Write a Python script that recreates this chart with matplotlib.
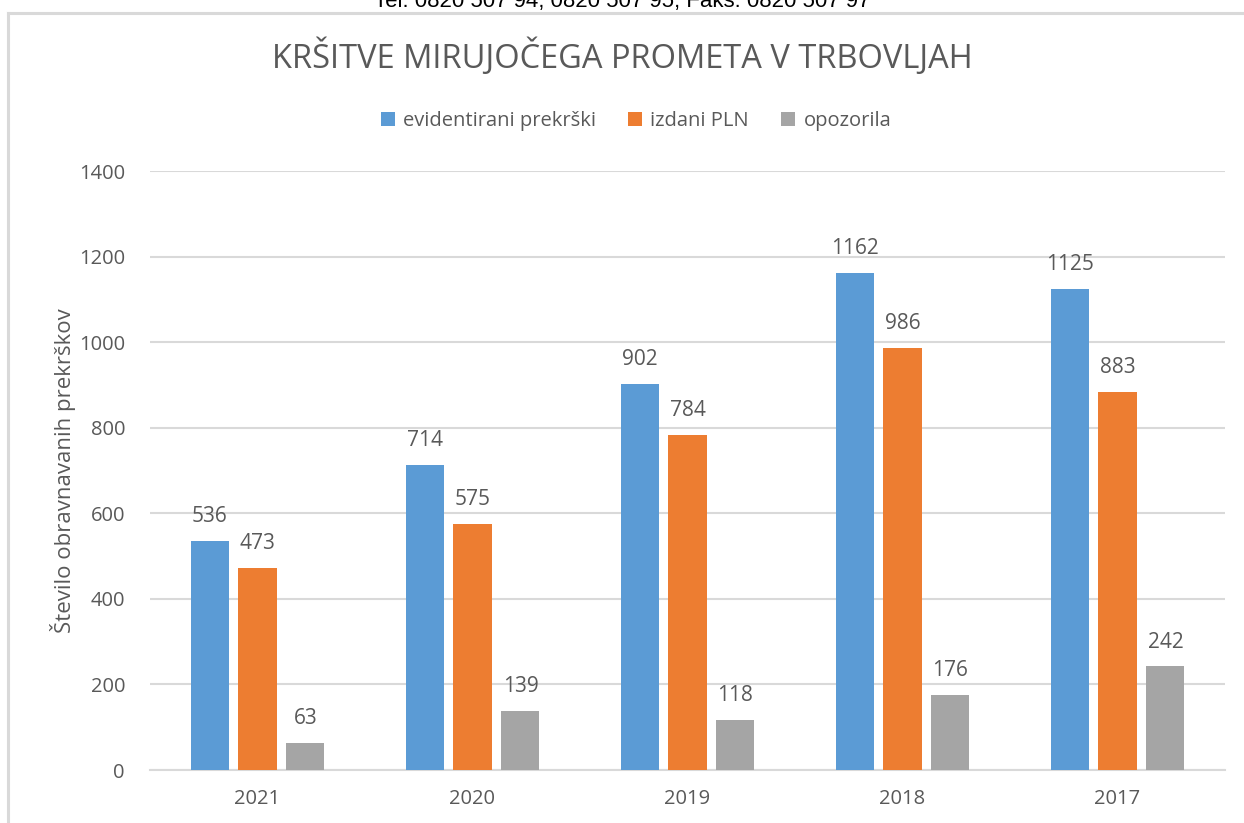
import numpy as np
import matplotlib.pyplot as plt
from matplotlib.lines import Line2D

years = ['2021', '2020', '2019', '2018', '2017']
evidentirani = [536, 714, 902, 1162, 1125]
izdani_pln = [473, 575, 784, 986, 883]
opozorila = [63, 139, 118, 176, 242]
series_names = ['evidentirani prekrški', 'izdani PLN', 'opozorila']
colors = ['#5b9bd5', '#ed7d31', '#a5a5a5']

plt.rcParams['font.family'] = ['Open Sans', 'DejaVu Sans']
W, H = 1244, 823
fig = plt.figure(figsize=(W / 100, H / 100), dpi=100)
ax = fig.add_axes([150 / W, 53 / H, 1075 / W, 599 / H])

x = np.arange(len(years))
bw = 0.177
pitch = 0.223
txt = '#595959'
for i, (vals, name, c) in enumerate(zip([evidentirani, izdani_pln, opozorila], series_names, colors)):
    pos = x + (i - 1) * pitch
    ax.bar(pos, vals, width=bw, color=c, label=name, zorder=3)
    for p, v in zip(pos, vals):
        ax.annotate(str(v), (p, v), xytext=(0, 10), textcoords='offset points',
                    ha='center', va='bottom', fontsize=15, color=txt)

ax.set_xlim(-0.5, len(years) - 0.5)
ax.set_ylim(0, 1400)
ax.set_yticks(range(0, 1401, 200))
ax.set_xticks(x)
ax.set_xticklabels(years)
ax.grid(axis='y', color='#d9d9d9', linewidth=1.5, zorder=0)
for s in ['top', 'right', 'left']:
    ax.spines[s].set_visible(False)
ax.spines['bottom'].set_color('#d9d9d9')
ax.spines['bottom'].set_linewidth(1.5)
ax.tick_params(axis='both', length=0, labelsize=14.5, labelcolor=txt)
ax.tick_params(axis='y', pad=18)
ax.tick_params(axis='x', pad=14)
ax.set_ylabel('Število obravnavanih prekrškov', fontsize=16, color=txt, labelpad=2)

fig.text(0.5, 1 - 57 / H, 'KRŠITVE MIRUJOČEGA PROMETA V TRBOVLJAH', ha='center', va='center',
         fontsize=23.5, color=txt)
fig.legend(loc='center', bbox_to_anchor=(636 / W, 1 - 121 / H), ncol=3, frameon=False,
           fontsize=14.5, labelcolor=txt, handlelength=0.7, handleheight=0.7,
           handletextpad=0.4, columnspacing=1.6)

# cut-off header text and chart border
fig.text(0.5, 1 - 7 / H, 'Tel. 0820 507 94, 0820 507 95, Faks: 0820 507 97', ha='center',
         va='baseline', fontsize=16, family='Liberation Sans', color='black')
fig.add_artist(Line2D([8 / W, 1], [1 - 13 / H, 1 - 13 / H], color='#d9d9d9', linewidth=2.2))
fig.add_artist(Line2D([8 / W, 8 / W], [0, 1 - 13 / H], color='#d9d9d9', linewidth=2.2))

fig.savefig('out.png', dpi=100)
